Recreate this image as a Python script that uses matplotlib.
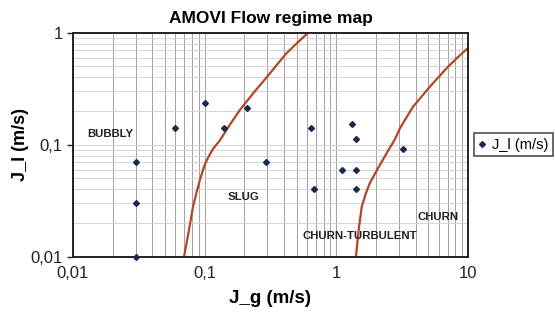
import numpy as np
import matplotlib
matplotlib.use("Agg")
import matplotlib.pyplot as plt
from matplotlib.ticker import FixedLocator, FixedFormatter, LogLocator, NullFormatter

plt.rcParams["font.family"] = ["Liberation Sans", "DejaVu Sans"]

# measured superficial velocities
jg = [0.03, 0.03, 0.03, 0.06, 0.1, 0.14, 0.21, 0.29, 0.64, 0.68, 1.1, 1.32, 1.41, 1.41, 1.41, 3.2]
jl = [0.07, 0.03, 0.01, 0.142, 0.234, 0.142, 0.214, 0.07, 0.142, 0.04, 0.06, 0.152, 0.112, 0.06, 0.04, 0.092]

# bubbly / slug transition
b1_jg = [0.0697, 0.0755, 0.0815, 0.087, 0.092, 0.0965, 0.1, 0.107, 0.1156, 0.131, 0.155, 0.185, 0.235, 0.297, 0.355, 0.42, 0.51, 0.61]
b1_jl = [0.01, 0.0165, 0.0278, 0.038, 0.0484, 0.058, 0.0659, 0.078, 0.0916, 0.110, 0.150, 0.204, 0.29, 0.402, 0.52, 0.659, 0.82, 1.0]

# churn-turbulent / churn transition
b2_jg = [1.41, 1.48, 1.56, 1.68, 1.80, 2.03, 2.41, 2.79, 3.04, 3.82, 5.14, 6.92, 8.24, 10.0]
b2_jl = [0.01, 0.0175, 0.028, 0.037, 0.0456, 0.059, 0.0838, 0.112, 0.140, 0.218, 0.33, 0.485, 0.594, 0.73]

regimes = ["BUBBLY", "SLUG", "CHURN-TURBULENT", "CHURN"]
regime_x = [0.0191, 0.197, 1.52, 5.88]
regime_y = [0.125, 0.0343, 0.0154, 0.0228]

xticks = [0.01, 0.1, 1, 10]
xticklabels = ["0,01", "0,1", "1", "10"]
yticks = [0.01, 0.1, 1]
yticklabels = ["0,01", "0,1", "1"]

fig = plt.figure(figsize=(5.55, 3.22), dpi=100)
ax = fig.add_axes([0.1315, 0.2028, 0.7117, 0.6956])
ax.set_xscale("log")
ax.set_yscale("log")
ax.set_xlim(0.01, 10)
ax.set_ylim(0.01, 1)

ax.xaxis.set_major_locator(FixedLocator(xticks))
ax.xaxis.set_major_formatter(FixedFormatter(xticklabels))
ax.yaxis.set_major_locator(FixedLocator(yticks))
ax.yaxis.set_major_formatter(FixedFormatter(yticklabels))
ax.xaxis.set_minor_locator(LogLocator(base=10, subs=np.arange(2, 10)))
ax.yaxis.set_minor_locator(LogLocator(base=10, subs=np.arange(2, 10)))
ax.xaxis.set_minor_formatter(NullFormatter())
ax.yaxis.set_minor_formatter(NullFormatter())
ax.tick_params(which="minor", length=0)
ax.tick_params(which="major", length=4, width=1, labelsize=12, colors="#222222")
ax.tick_params(axis="x", length=0, pad=7)

ax.grid(True, axis="x", which="both", color="#9a9a9a", lw=0.65)
ax.grid(True, axis="y", which="both", color="#d2d2d2", lw=0.65)
ax.set_axisbelow(True)
for s in ax.spines.values():
	s.set_linewidth(1.4)
	s.set_color("#222222")

ax.plot(b1_jg, b1_jl, color="#b0462a", lw=1.6)
ax.plot(b2_jg, b2_jl, color="#b0462a", lw=1.6)
ax.plot(jg, jl, ls="none", marker="D", ms=3, color="#1c2a4a", label="J_l (m/s)", clip_on=False, zorder=5)

for name, x, y in zip(regimes, regime_x, regime_y):
	ax.text(x, y, name, fontsize=8.2, fontweight="bold", color="#222222", ha="center", va="center")

ax.set_title("AMOVI Flow regime map", fontsize=12.5, fontweight="bold", pad=7)
ax.set_xlabel("J_g (m/s)", fontsize=13.5, fontweight="bold", labelpad=6)
ax.set_ylabel("J_l (m/s)", fontsize=13, fontweight="bold", labelpad=1)

leg = ax.legend(loc="center left", bbox_to_anchor=(1.005, 0.5), fontsize=10.5, frameon=True,
	fancybox=False, edgecolor="#222222", handlelength=0.5, handletextpad=0.4, borderpad=0.3,
	borderaxespad=0.3)
leg.get_frame().set_linewidth(1.2)

fig.savefig("out.png", dpi=100)
